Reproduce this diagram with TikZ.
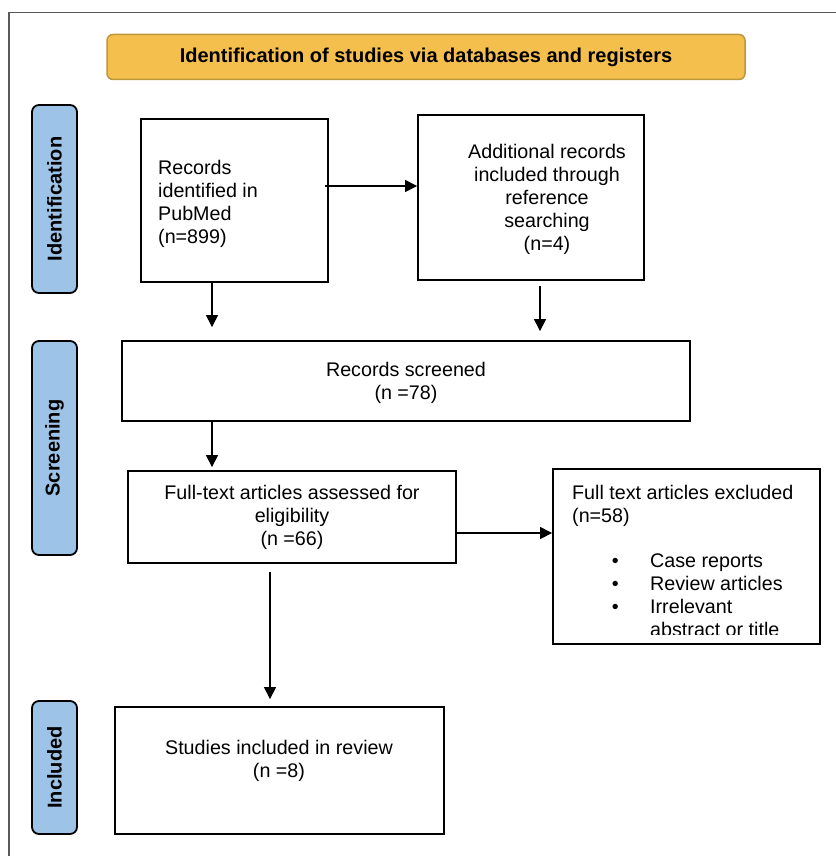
\documentclass[tikz,border=0pt]{standalone}
\usepackage{fontspec}
\setmainfont{Liberation Sans}
\usetikzlibrary{arrows.meta}
\definecolor{hdrfill}{RGB}{245,191,77}
\definecolor{hdrline}{RGB}{190,150,60}
\definecolor{sidefill}{RGB}{157,195,230}
\definecolor{framegray}{RGB}{90,90,90}
\begin{document}
\begin{tikzpicture}[x=1pt,y=-1pt,
  box/.style={draw=black, line width=1.8pt, rectangle, inner sep=0pt},
  txt/.style={font=\fontsize{19.7}{23}\selectfont, inner sep=0pt, align=center},
  side/.style={draw=black, line width=1.8pt, fill=sidefill, rounded corners=7pt,
    rotate=90, minimum height=45pt, inner sep=0pt, font=\bfseries\fontsize{20}{24}\selectfont},
  arr/.style={-{Triangle[length=12pt,width=12pt]}, line width=1.1pt}
]
\useasboundingbox (0,0) rectangle (835,856);
% outer frame
\draw[framegray, line width=1.3pt] (9,860) -- (9,12.5) -- (840,12.5);

% header
\node[draw=hdrline, fill=hdrfill, line width=1.5pt, rounded corners=6pt,
  minimum width=638pt, minimum height=45pt, inner sep=0pt,
  font=\bfseries\fontsize{20}{24}\selectfont] (hdr) at (426,57)
  {Identification of studies via databases and registers};

% side labels
\node[side, minimum width=188pt] (sid1) at (54.5,199) {Identification};
\node[side, minimum width=214pt] (sid2) at (54.5,448) {Screening};
\node[side, minimum width=133pt] (sid3) at (54.5,767.5) {Included};

% boxes
\node[box, minimum width=187pt, minimum height=163pt] (pub) at (234.5,200.5) {};
\node[txt, align=left, anchor=west] (pubt) at (158,204) {Records\\identified in\\PubMed\\(n=899)};

\node[box, minimum width=226pt, minimum height=165pt] (add) at (531,197.5) {};
\node[txt] (addt) at (547,199) {Additional records\\included through\\reference\\searching\\(n=4)};

\node[box, minimum width=568pt, minimum height=80pt] (scr) at (406,381) {};
\node[txt] (scrt) at (406,382.5) {Records screened\\(n =78)};

\node[box, minimum width=328pt, minimum height=92pt] (ass) at (292,517) {};
\node[txt] (asst) at (292,517) {Full-text articles assessed for\\eligibility\\(n =66)};

\begin{scope}
\clip (553,469) rectangle (820,634);
\node[txt, align=left, anchor=north west] (exct) at (572,485)
  {Full text articles excluded\\(n=58)\\[22pt]
   \makebox[78pt][l]{\hspace{39.6pt}\textbullet}Case reports\\
   \makebox[78pt][l]{\hspace{39.6pt}\textbullet}Review articles\\
   \makebox[78pt][l]{\hspace{39.6pt}\textbullet}Irrelevant\\
   \makebox[78pt][l]{}abstract or title};
\end{scope}
\node[box, minimum width=267pt, minimum height=175pt] (exc) at (686.5,556.5) {};

\node[box, minimum width=329pt, minimum height=127pt] (inc) at (279.5,770.5) {};
\node[txt] (inct) at (279,761) {Studies included in review\\(n =8)};

% connectors
\draw[arr] ([shift={(-4,-14.5)}]pub.east) coordinate (p1) -- (p1 -| add.west);

\coordinate (e1) at ([shift={(0,-13)}]scr.north);
\draw[arr] ([xshift=-22.5pt]pub.south) coordinate (p2) -- (p2 |- e1);

\coordinate (e2) at ([shift={(0,-9)}]scr.north);
\draw[arr] ([shift={(9,5)}]add.south) coordinate (p3) -- (p3 |- e2);

\coordinate (e3) at ([shift={(0,-3)}]ass.north);
\draw[arr] (scr.south -| p2) -- (p2 |- e3);

\draw[arr] ([shift={(0,16)}]ass.east) coordinate (p4) -- (p4 -| exc.west);

\coordinate (e4) at ([shift={(0,-7)}]inc.north);
\draw[arr] ([shift={(-22,8)}]ass.south) coordinate (p5) -- (p5 |- e4);
\end{tikzpicture}
\end{document}
